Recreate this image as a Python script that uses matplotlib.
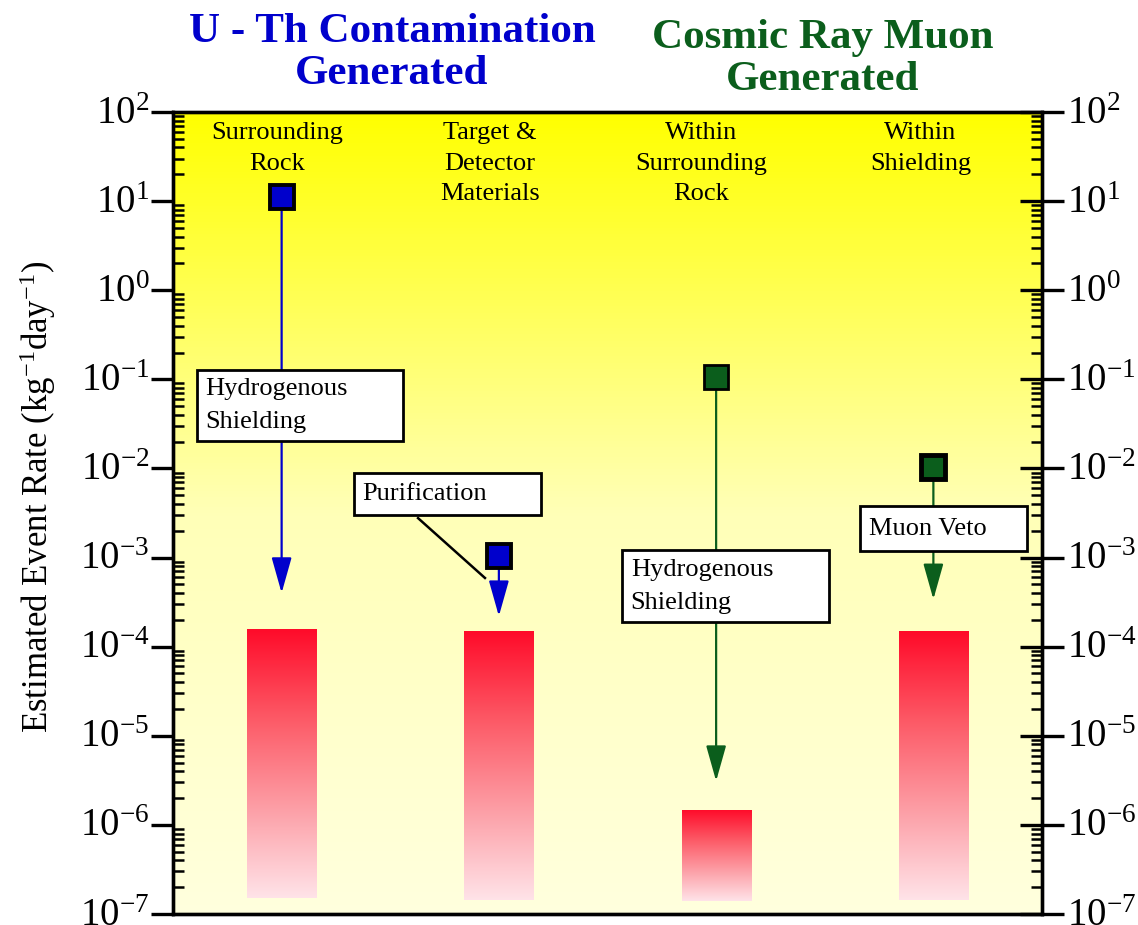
import numpy as np
import matplotlib
matplotlib.use("Agg")
import matplotlib.pyplot as plt
from matplotlib.patches import Rectangle
from matplotlib.ticker import LogLocator, FuncFormatter
from matplotlib.colors import LinearSegmentedColormap
from matplotlib.transforms import ScaledTranslation

plt.rcParams["font.family"] = ["Liberation Serif", "DejaVu Serif"]
plt.rcParams["mathtext.fontset"] = "custom"
plt.rcParams["mathtext.rm"] = "Liberation Serif"
plt.rcParams["mathtext.it"] = "Liberation Serif:italic"
plt.rcParams["mathtext.bf"] = "Liberation Serif:bold"

# ---- data ----
categories = ["Surrounding\nRock", "Target &\nDetector\nMaterials",
              "Within\nSurrounding\nRock", "Within\nShielding"]
x_pos = [0.5, 1.5, 2.5, 3.5]
source_rate = [11.0, 1.05e-3, 0.105, 0.0105]       # squares
arrow_tip = [4.0e-4, 2.2e-4, 3.1e-6, 3.4e-4]        # where the arrows end
bar_top = [1.58e-4, 1.5e-4, 1.48e-6, 1.5e-4]
bar_bottom = [1.5e-7, 1.43e-7, 1.4e-7, 1.45e-7]
group = ["U-Th", "U-Th", "muon", "muon"]

box_text = ["Hydrogenous\nShielding", "Purification", "Hydrogenous\nShielding", "Muon Veto"]
box_left = [0.11, 0.833, 2.067, 3.162]
box_right = [1.059, 1.694, 3.020, 3.931]
box_top = [0.127, 8.9e-3, 1.21e-3, 3.79e-3]
box_bottom = [0.0203, 3.0e-3, 1.89e-4, 1.18e-3]

purif_line_x = [1.128, 1.436]
purif_line_y = [2.77e-3, 5.9e-4]

label_dx = [-0.02, -0.04, -0.07, -0.06]   # category labels sit a bit left of the bars

BLUE = "#0000CC"
GREEN = "#0B5E1C"
colors = {"U-Th": BLUE, "muon": GREEN}
marker_edge = [2.8, 2.8, 2.0, 3.5]

fig = plt.figure(figsize=(11.38, 9.25), dpi=100)
ax = fig.add_axes([173 / 1138, 1 - 914 / 925, 869 / 1138, 802 / 925])
ax.set_yscale("log")
ax.set_xlim(0, 4)
ax.set_ylim(1e-7, 1e2)

# yellow background gradient
bg = LinearSegmentedColormap.from_list("bg", [(1, 1, 0.87), (1, 1, 0.72), (1, 1, 0.0)])
ax.imshow(np.linspace(0, 1, 256)[:, None], cmap=bg, origin="lower", aspect="auto",
          extent=[0, 1, 0, 1], transform=ax.transAxes, zorder=0)

# gradient bars (gradient laid out in axes space so it is even on the log scale)
red = LinearSegmentedColormap.from_list(
    "red", [(1, 0.89, 0.91), (0.99, 0.62, 0.65), (0.99, 0.35, 0.40), (1.0, 0.04, 0.16)])
width = 0.318
bars = ax.bar(x_pos, np.array(bar_top) - np.array(bar_bottom), bottom=bar_bottom,
              width=width, color="none", edgecolor="none", zorder=1)
data_to_axes = ax.transData + ax.transAxes.inverted()
for b in bars:
    (ax0, ay0), (ax1, ay1) = data_to_axes.transform(
        [(b.get_x(), b.get_y()), (b.get_x() + b.get_width(), b.get_y() + b.get_height())])
    im = ax.imshow(np.linspace(0, 1, 256)[:, None], cmap=red, origin="lower", aspect="auto",
                   extent=[ax0, ax1, ay0, ay1], transform=ax.transAxes, zorder=1)
    im.set_clip_path(b)

# arrows from source level down
for x, s, t, g in zip(x_pos, source_rate, arrow_tip, group):
    ax.annotate("", xy=(x, t), xytext=(x, s),
                arrowprops=dict(arrowstyle="-|>,head_length=2.2,head_width=0.62",
                                color=colors[g], lw=1.6, shrinkA=0, shrinkB=0),
                zorder=2)

# labelled boxes
for txt, l, r, tp, bt in zip(box_text, box_left, box_right, box_top, box_bottom):
    ax.add_patch(Rectangle((l, bt), r - l, tp - bt, facecolor="white",
                           edgecolor="black", lw=2, zorder=3))
    ax.text(l + 0.04, np.sqrt(tp * bt), txt, ha="left", va="center",
            fontsize=19, linespacing=1.65, zorder=4)

ax.plot(purif_line_x, purif_line_y, color="black", lw=1.8, zorder=3)

# source squares
for x, s, g, mew in zip(x_pos, source_rate, group, marker_edge):
    ax.plot(x, s, marker="s", ms=17, mfc=colors[g], mec="black", mew=mew, zorder=5)

# category labels
for x, dx, c in zip(x_pos, label_dx, categories):
    ax.text(x + dx, 0.987, c, transform=ax.get_xaxis_transform(), ha="center",
            va="top", fontsize=19, linespacing=1.48, zorder=4)

ax.set_xlim(0, 4)
ax.set_ylim(1e-7, 1e2)
ax.set_xticks([])

fmt = FuncFormatter(lambda v, p: r"$10^{%d}$" % round(np.log10(v)))
ax.yaxis.set_major_locator(LogLocator(base=10, numticks=20))
ax.yaxis.set_minor_locator(LogLocator(base=10, subs=np.arange(2, 10), numticks=100))
ax.yaxis.set_major_formatter(fmt)
ax.tick_params(axis="y", which="major", direction="out", length=16, width=2.4,
               labelsize=28, pad=1)
ax.tick_params(axis="y", which="minor", direction="in", length=8, width=1.8)

ax2 = ax.twinx()
ax2.set_yscale("log")
ax2.set_ylim(1e-7, 1e2)
ax2.yaxis.set_major_locator(LogLocator(base=10, numticks=20))
ax2.yaxis.set_minor_locator(LogLocator(base=10, subs=np.arange(2, 10), numticks=100))
ax2.yaxis.set_major_formatter(fmt)
ax2.tick_params(axis="y", which="major", direction="inout", length=32, width=2.4,
                labelsize=28, pad=2)
ax2.tick_params(axis="y", which="minor", direction="in", length=8, width=1.8)

for a in (ax, ax2):
    for sp in a.spines.values():
        sp.set_linewidth(2.4)

ax.set_ylabel(r"Estimated Event Rate (kg$^{-1}$day$^{-1}$)", fontsize=25)
ax.yaxis.set_label_coords(-0.132, 0.52)

fig.text(392 / 1138, 1 - 13 / 925, "U - Th Contamination\nGenerated", color=BLUE,
         fontsize=31, fontweight="bold", ha="center", va="top", linespacing=1.13)
fig.text(823 / 1138, 1 - 19 / 925, "Cosmic Ray Muon\nGenerated", color=GREEN,
         fontsize=31, fontweight="bold", ha="center", va="top", linespacing=1.13)

# nudge tick labels up a little so the bottom one stays inside the figure
fig.canvas.draw()
lift = ScaledTranslation(0, 2.5 / 100, fig.dpi_scale_trans)
for a in (ax, ax2):
    for lab in a.get_yticklabels():
        lab.set_transform(lab.get_transform() + lift)

fig.savefig("out.png", dpi=100)
